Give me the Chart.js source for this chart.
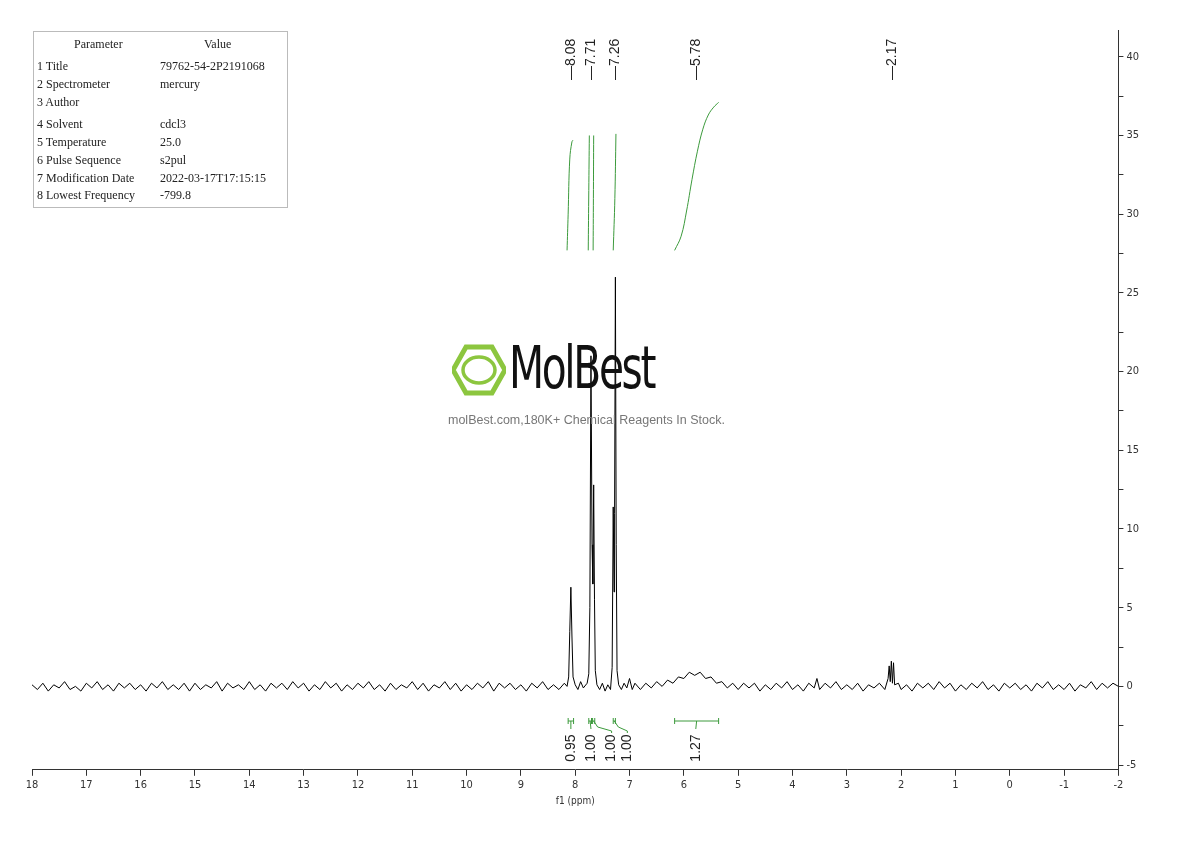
<!DOCTYPE html>
<html>
<head>
<meta charset="utf-8">
<script src="https://cdn.jsdelivr.net/npm/chart.js@4.4.0/dist/chart.umd.min.js"></script>
<style>
  body { margin: 0; background: #fff; }
  #wrap { position: relative; width: 1190px; height: 841px; }
  #table { position: absolute; left: 33px; top: 31px; width: 253px; height: 175px; border: 1px solid #bbb;
           font-family: "Liberation Serif", "DejaVu Serif", serif; font-size: 12px; color: #222; }
  #table div { position: absolute; white-space: nowrap; }
  #logo { position: absolute; left: 452px; top: 343px; width: 215px; height: 60px; }
  #logo .name { position: absolute; left: 57px; top: -9px; font-family: "DejaVu Sans Condensed", "Liberation Sans Narrow", sans-serif;
                font-size: 58px; letter-spacing: -3px; transform: scaleX(0.78); transform-origin: left; color: #111; }
  #slogan { position: absolute; left: 448px; top: 413px; font-family: "Liberation Sans", Arial, sans-serif; font-size: 12.5px; color: #777; }
</style>
</head>
<body>
<div id="wrap">
  <canvas id="nmr" width="1190" height="841"></canvas>
  <div id="table"></div>
  <div id="logo">
    <svg width="54" height="54" viewBox="0 0 54 54" style="position:absolute;left:0;top:0">
      <polygon points="14,4 40,4 53,27 40,50 14,50 1,27" fill="none" stroke="#8cc63f" stroke-width="5"/>
      <ellipse cx="27" cy="27" rx="16" ry="13" fill="none" stroke="#8cc63f" stroke-width="3.5"/>
    </svg>
    <div class="name">MolBest</div>
  </div>
  <div id="slogan">molBest.com,180K+ Chemical Reagents In Stock.</div>
</div>
<script>
// parameter table
const paramNames = ['1 Title', '2 Spectrometer', '3 Author', '4 Solvent', '5 Temperature', '6 Pulse Sequence', '7 Modification Date', '8 Lowest Frequency'];
const paramValues = ['79762-54-2P2191068', 'mercury', '', 'cdcl3', '25.0', 's2pul', '2022-03-17T17:15:15', '-799.8'];
const rowTops = [27, 45, 63, 85, 103, 121, 139, 156];

const tbl = document.getElementById('table');
tbl.innerHTML = '<div style="left:40px;top:5px">Parameter</div><div style="left:170px;top:5px">Value</div>';
paramNames.forEach((n, i) => {
  tbl.innerHTML += `<div style="left:3px;top:${rowTops[i]}px">${n}</div><div style="left:126px;top:${rowTops[i]}px">${paramValues[i]}</div>`;
});

// spectrum [ppm, intensity]
const spectrum = [
  [18.0,0.1],[17.9,-0.2],[17.8,0.2],[17.7,-0.3],[17.6,0.1],[17.5,-0.1],[17.4,0.3],[17.3,-0.2],[17.2,0.0],[17.1,-0.3],
  [17.0,0.2],[16.9,-0.1],[16.8,0.3],[16.7,-0.2],[16.6,0.1],[16.5,-0.3],[16.4,0.2],[16.3,-0.1],[16.2,0.2],[16.1,-0.2],
  [16.0,0.1],[15.9,-0.3],[15.8,0.2],[15.7,-0.1],[15.6,0.3],[15.5,-0.2],[15.4,0.1],[15.3,-0.2],[15.2,0.2],[15.1,-0.3],
  [15.0,0.2],[14.9,-0.2],[14.8,0.1],[14.7,-0.1],[14.6,0.3],[14.5,-0.3],[14.4,0.2],[14.3,-0.1],[14.2,0.1],[14.1,-0.2],
  [14.0,0.3],[13.9,-0.2],[13.8,0.1],[13.7,-0.3],[13.6,0.2],[13.5,-0.1],[13.4,0.2],[13.3,-0.2],[13.2,0.3],[13.1,-0.1],
  [13.0,0.2],[12.9,-0.3],[12.8,0.1],[12.7,-0.2],[12.6,0.3],[12.5,-0.1],[12.4,0.2],[12.3,-0.3],[12.2,0.1],[12.1,-0.2],
  [12.0,0.2],[11.9,-0.1],[11.8,0.3],[11.7,-0.2],[11.6,0.1],[11.5,-0.3],[11.4,0.2],[11.3,-0.2],[11.2,0.1],[11.1,-0.1],
  [11.0,0.3],[10.9,-0.2],[10.8,0.2],[10.7,-0.3],[10.6,0.1],[10.5,-0.1],[10.4,0.3],[10.3,-0.2],[10.2,0.2],[10.1,-0.3],
  [10.0,0.1],[9.9,-0.2],[9.8,0.2],[9.7,-0.1],[9.6,0.3],[9.5,-0.3],[9.4,0.2],[9.3,-0.1],[9.2,0.2],[9.1,-0.2],
  [9.0,0.1],[8.9,-0.3],[8.8,0.2],[8.7,-0.1],[8.6,0.3],[8.5,-0.2],[8.4,0.1],[8.3,-0.2],[8.2,0.2],[8.15,0.0],
  [8.12,0.6],[8.10,3.5],[8.08,6.3],[8.06,3.2],[8.04,0.6],[8.0,0.1],[7.95,-0.2],[7.9,0.3],[7.85,-0.1],[7.78,0.2],
  [7.75,0.8],[7.73,5.0],[7.71,21.0],[7.69,9.0],[7.675,6.5],[7.66,12.8],[7.645,5.5],[7.63,1.0],[7.6,0.1],[7.55,-0.2],
  [7.5,0.2],[7.45,-0.3],[7.4,0.1],[7.35,-0.2],[7.32,1.2],[7.30,11.4],[7.285,6.0],[7.275,11.0],[7.26,26.0],[7.245,9.0],
  [7.23,1.0],[7.2,0.1],[7.15,-0.2],[7.1,0.2],[7.05,-0.1],[7.0,0.5],[6.95,-0.2],[6.9,0.2],[6.8,-0.2],[6.7,0.2],
  [6.6,-0.1],[6.5,0.3],[6.4,0.0],[6.3,0.4],[6.2,0.2],[6.1,0.6],[6.0,0.5],[5.9,0.9],[5.8,0.7],[5.7,0.9],
  [5.6,0.5],[5.5,0.6],[5.4,0.2],[5.3,0.3],[5.2,-0.1],[5.1,0.2],[5.0,-0.2],[4.9,0.2],[4.8,-0.1],[4.7,0.2],
  [4.6,-0.3],[4.5,0.1],[4.4,-0.2],[4.3,0.2],[4.2,-0.1],[4.1,0.3],[4.0,-0.2],[3.9,0.1],[3.8,-0.3],[3.7,0.2],
  [3.6,-0.1],[3.55,0.5],[3.5,-0.2],[3.4,0.2],[3.3,-0.1],[3.2,0.3],[3.1,-0.2],[3.0,0.1],[2.9,-0.2],[2.8,0.2],
  [2.7,-0.3],[2.6,0.1],[2.5,-0.1],[2.4,0.2],[2.3,-0.2],[2.24,0.5],[2.22,1.3],[2.20,0.3],[2.18,1.6],[2.16,0.2],
  [2.14,1.5],[2.12,0.1],[2.05,0.2],[2.0,-0.2],[1.9,0.1],[1.8,-0.3],[1.7,0.2],[1.6,-0.1],[1.5,0.2],[1.4,-0.2],
  [1.3,0.3],[1.2,-0.1],[1.1,0.2],[1.0,-0.3],[0.9,0.1],[0.8,-0.2],[0.7,0.2],[0.6,-0.1],[0.5,0.3],[0.4,-0.2],
  [0.3,0.1],[0.2,-0.3],[0.1,0.2],[0.0,-0.1],[-0.1,0.2],[-0.2,-0.2],[-0.3,0.1],[-0.4,-0.3],[-0.5,0.2],[-0.6,-0.1],
  [-0.7,0.3],[-0.8,-0.2],[-0.9,0.1],[-1.0,-0.2],[-1.1,0.2],[-1.2,-0.3],[-1.3,0.1],[-1.4,-0.1],[-1.5,0.3],[-1.6,-0.2],
  [-1.7,0.2],[-1.8,-0.1],[-1.9,0.2],[-2.0,0.0]
];

// integral curves
const integral1 = [[8.15,27.7],[8.13,30.0],[8.10,33.5],[8.06,34.6],[8.04,34.7]];
const integral2 = [[7.76,27.7],[7.75,31.5],[7.74,35.0]];
const integral3 = [[7.67,27.7],[7.665,31.0],[7.66,35.0]];
const integral4 = [[7.30,27.7],[7.27,31.0],[7.25,35.1]];
const integral5 = [[6.17,27.7],[6.05,28.6],[5.95,30.2],[5.85,32.2],[5.75,34.0],[5.65,35.4],[5.55,36.3],[5.45,36.8],[5.36,37.1]];

const peakLabels = [8.08, 7.71, 7.26, 5.78, 2.17];
// integration brackets: from, to, label position, value
const intFrom = [8.13, 7.75, 7.68, 7.30, 6.17];
const intTo = [8.03, 7.70, 7.64, 7.26, 5.36];
const intLabelAt = [8.08, 7.71, 7.33, 7.04, 5.78];
const intValues = ['0.95', '1.00', '1.00', '1.00', '1.27'];

const xTicks = [18,17,16,15,14,13,12,11,10,9,8,7,6,5,4,3,2,1,0,-1,-2];

const toXY = arr => arr.map(p => ({ x: p[0], y: p[1] }));
const green = '#3c9a3c';
const intStyle = { borderColor: green, borderWidth: 1, pointRadius: 0, tension: 0.4 };

const annotate = {
  id: 'annotate',
  afterDatasetsDraw(chart) {
    const { ctx, scales: { x, y } } = chart;
    ctx.save();
    ctx.font = '14px "Liberation Sans", Arial, sans-serif';
    ctx.fillStyle = '#222';
    ctx.textBaseline = 'middle';
    peakLabels.forEach(p => {
      ctx.save();
      ctx.translate(x.getPixelForValue(p), 80);
      ctx.rotate(-Math.PI / 2);
      ctx.fillText('\u2014' + p.toFixed(2), 0, 0);
      ctx.restore();
    });
    // integrations
    const by = y.getPixelForValue(-2.2);
    ctx.strokeStyle = green;
    ctx.lineWidth = 1;
    intFrom.forEach((f, i) => {
      const x1 = x.getPixelForValue(f), x2 = x.getPixelForValue(intTo[i]);
      const xm = (x1 + x2) / 2, xl = x.getPixelForValue(intLabelAt[i]);
      ctx.beginPath();
      ctx.moveTo(x1, by); ctx.lineTo(x2, by);
      ctx.moveTo(x1, by - 3); ctx.lineTo(x1, by + 3);
      ctx.moveTo(x2, by - 3); ctx.lineTo(x2, by + 3);
      ctx.moveTo(xm, by);
      if (Math.abs(xl - xm) > 3) { ctx.lineTo(xm + 4, by + 6); ctx.lineTo(xl, by + 10); ctx.lineTo(xl, by + 12); }
      else ctx.lineTo(xl, by + 8);
      ctx.stroke();
      ctx.save();
      ctx.translate(xl, by + 27);
      ctx.rotate(-Math.PI / 2);
      ctx.textAlign = 'center';
      ctx.fillText(intValues[i], 0, 0);
      ctx.restore();
    });
    ctx.restore();
  }
};

new Chart(document.getElementById('nmr'), {
  type: 'line',
  data: {
    datasets: [
      { data: toXY(spectrum), borderColor: '#000', borderWidth: 1, pointRadius: 0, tension: 0 },
      { data: toXY(integral1), ...intStyle },
      { data: toXY(integral2), ...intStyle },
      { data: toXY(integral3), ...intStyle },
      { data: toXY(integral4), ...intStyle },
      { data: toXY(integral5), ...intStyle }
    ]
  },
  options: {
    responsive: false,
    animation: false,
    layout: { padding: { left: 32, right: 48, top: 30, bottom: 34 } },
    plugins: { legend: { display: false }, tooltip: { enabled: false } },
    scales: {
      x: {
        type: 'linear', reverse: true, min: -2, max: 18,
        afterBuildTicks: axis => { axis.ticks = xTicks.map(v => ({ value: v })); },
        grid: { drawOnChartArea: false, tickLength: 6, color: '#333' },
        border: { color: '#333' },
        ticks: { color: '#333', font: { family: '"DejaVu Sans Condensed", sans-serif', size: 11 }, maxRotation: 0 },
        title: { display: true, text: 'f1 (ppm)', color: '#333', padding: 0,
                 font: { family: '"DejaVu Sans Condensed", sans-serif', size: 10 } }
      },
      y: {
        position: 'right', min: -5.3, max: 41.7,
        afterBuildTicks: axis => {
          const t = [];
          for (let v = -5; v <= 40; v += 2.5) t.push({ value: v });
          axis.ticks = t;
        },
        grid: { drawOnChartArea: false, tickLength: 5, color: '#333' },
        border: { color: '#333' },
        ticks: { color: '#333', font: { family: '"DejaVu Sans Condensed", sans-serif', size: 11 },
                 callback: v => (v % 5 === 0 ? v : '') }
      }
    }
  },
  plugins: [annotate]
});
</script>
</body>
</html>
